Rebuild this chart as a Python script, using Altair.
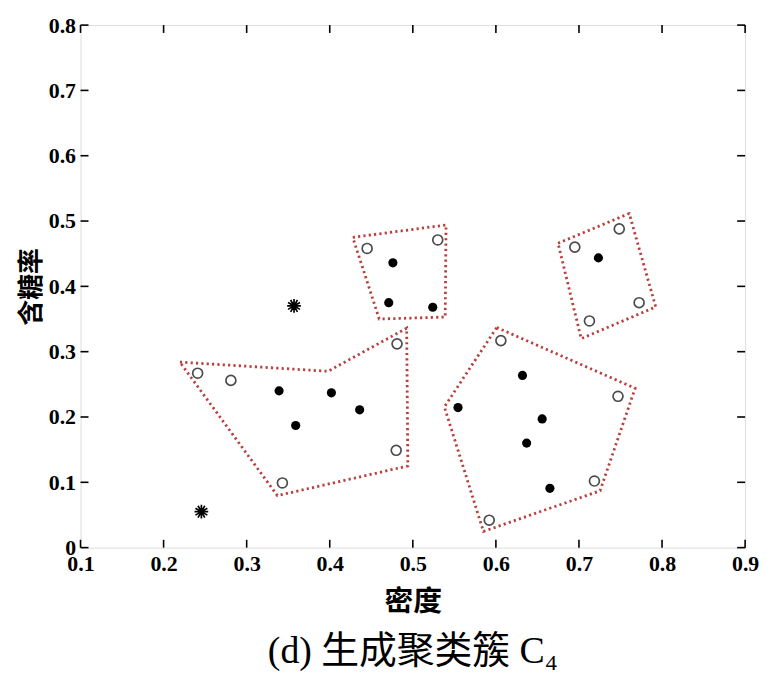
import altair as alt
import pandas as pd

# ---- data ----
open_x = [0.241, 0.281, 0.481, 0.480, 0.343, 0.445, 0.530, 0.695, 0.7485, 0.7724, 0.7126, 0.606, 0.747, 0.7186, 0.592]
open_y = [0.267, 0.256, 0.312, 0.149, 0.099, 0.458, 0.471, 0.460, 0.488, 0.375, 0.347, 0.317, 0.2317, 0.102, 0.042]

filled_x = [0.339, 0.402, 0.436, 0.359, 0.476, 0.471, 0.524, 0.7234, 0.632, 0.5544, 0.6557, 0.637, 0.665]
filled_y = [0.240, 0.237, 0.211, 0.187, 0.436, 0.375, 0.368, 0.4436, 0.2636, 0.2144, 0.197, 0.160, 0.0908]

star_x = [0.2455, 0.357]
star_y = [0.055, 0.370]

poly1_x = [0.2196, 0.398, 0.4926, 0.494, 0.337]
poly1_y = [0.284, 0.270, 0.336, 0.125, 0.0796]
poly2_x = [0.4277, 0.540, 0.539, 0.4596]
poly2_y = [0.475, 0.494, 0.353, 0.350]
poly3_x = [0.6748, 0.7605, 0.7924, 0.7027]
poly3_y = [0.466, 0.5115, 0.3685, 0.320]
poly4_x = [0.601, 0.7676, 0.7254, 0.585, 0.538]
poly4_y = [0.337, 0.244, 0.087, 0.0248, 0.2155]

x_ticks = [0.1, 0.2, 0.3, 0.4, 0.5, 0.6, 0.7, 0.8, 0.9]
y_ticks = [0, 0.1, 0.2, 0.3, 0.4, 0.5, 0.6, 0.7, 0.8]

# ---- tables ----
rows = []
for k, (px, py) in enumerate([(poly1_x, poly1_y), (poly2_x, poly2_y), (poly3_x, poly3_y), (poly4_x, poly4_y)]):
    xs_ = px + [px[0]]
    ys_ = py + [py[0]]
    for i, (a, b) in enumerate(zip(xs_, ys_)):
        rows.append({"cluster": k, "order": i, "x": a, "y": b})
poly_df = pd.DataFrame(rows)

open_df = pd.DataFrame({"x": open_x, "y": open_y})
filled_df = pd.DataFrame({"x": filled_x, "y": filled_y})
star_df = pd.DataFrame({"x": star_x, "y": star_y})

xt = pd.DataFrame({"x": x_ticks})
yt = pd.DataFrame({"y": y_ticks})

xs = alt.Scale(domain=[0.1, 0.9], nice=False, zero=False)
ys = alt.Scale(domain=[0, 0.8], nice=False, zero=False)

serif = "Liberation Serif"
cjk = "Noto Sans CJK SC"

X = alt.X("x:Q", scale=xs, title="密度",
          axis=alt.Axis(values=x_ticks, format=".1f",
                        ticks=False, domain=False, grid=False,
                        labelFont=serif, labelFontWeight="bold", labelFontSize=22, labelColor="black",
                        labelPadding=6, labelFlush=False,
                        titleFont=cjk, titleFontWeight="bold", titleFontSize=29, titleColor="black",
                        titlePadding=13))
Y = alt.Y("y:Q", scale=ys, title="含糖率",
          axis=alt.Axis(values=y_ticks, labelExpr="datum.value == 0 ? '0' : format(datum.value, '.1f')",
                        ticks=False, domain=False, grid=False,
                        labelFont=serif, labelFontWeight="bold", labelFontSize=22, labelColor="black",
                        labelPadding=5, labelFlush=False,
                        titleFont=cjk, titleFontWeight="bold", titleFontSize=26, titleColor="black",
                        titlePadding=4))

polys = alt.Chart(poly_df).mark_line(color="#b8403c", strokeWidth=2.8, strokeDash=[2.2, 3.2]).encode(
    x=X, y=Y, detail="cluster:N", order="order:Q")

opens = alt.Chart(open_df).mark_point(shape="circle", filled=False, stroke="black", strokeWidth=1.7, size=100).encode(
    x=alt.X("x:Q", scale=xs), y=alt.Y("y:Q", scale=ys))
filleds = alt.Chart(filled_df).mark_point(shape="circle", filled=True, fill="black", opacity=1, size=85).encode(
    x=alt.X("x:Q", scale=xs), y=alt.Y("y:Q", scale=ys))
stars = alt.Chart(star_df).mark_point(
    shape="M0,-1L0,1M-0.87,-0.5L0.87,0.5M-0.87,0.5L0.87,-0.5M-0.5,-0.87L0.5,0.87M0.5,-0.87L-0.5,0.87M-1,0L1,0",
    filled=False, stroke="black", strokeWidth=1.7, size=190, opacity=1).encode(
    x=alt.X("x:Q", scale=xs), y=alt.Y("y:Q", scale=ys))

tick_kw = dict(color="black", strokeWidth=1.6)
xb = alt.Chart(xt).mark_rule(**tick_kw).encode(x=alt.X("x:Q", scale=xs), y=alt.datum(0), y2=alt.datum(0.012))
xtop = alt.Chart(xt).mark_rule(**tick_kw).encode(x=alt.X("x:Q", scale=xs), y=alt.datum(0.8), y2=alt.datum(0.788))
yl = alt.Chart(yt).mark_rule(**tick_kw).encode(y=alt.Y("y:Q", scale=ys), x=alt.datum(0.1), x2=alt.datum(0.1096))
yr = alt.Chart(yt).mark_rule(**tick_kw).encode(y=alt.Y("y:Q", scale=ys), x=alt.datum(0.9), x2=alt.datum(0.8904))

chart = alt.layer(polys, opens, filleds, stars, xb, xtop, yl, yr).properties(
    width=669, height=526,
    autosize=alt.AutoSizeParams(type="none"),
    padding={"left": 73, "top": 15, "right": 18, "bottom": 124},
    title=alt.TitleParams(text="(d) 生成聚类簇 C₄", orient="bottom", anchor="middle",
                          font=f"{serif}, {cjk}", fontSize=38, fontWeight="normal", color="black", offset=17),
).configure_view(stroke="black", strokeWidth=2.6).configure(background="white")

chart.save("out.html", embed_options={"renderer": "svg", "actions": False})
